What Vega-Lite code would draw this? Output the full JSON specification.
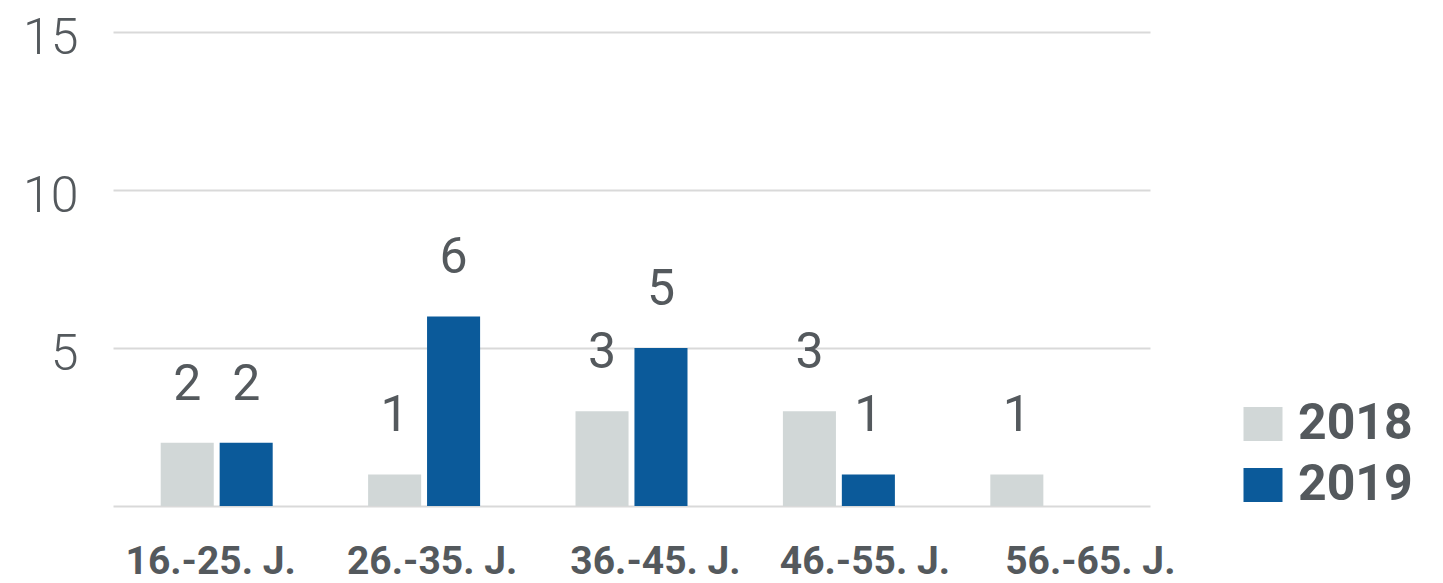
{
  "$schema": "https://vega.github.io/schema/vega-lite/v6.json",
  "width": 1037,
  "height": 474,
  "autosize": {"type": "none"},
  "padding": {"left": 113, "top": 32, "right": 293, "bottom": 77},
  "background": "#ffffff",
  "config": {
    "view": {"stroke": null},
    "font": "Roboto",
    "text": {"font": "Roboto"}
  },
  "data": {
    "values": [
      {"age": "16.-25. J.", "year": "2018", "value": 2},
      {"age": "16.-25. J.", "year": "2019", "value": 2},
      {"age": "26.-35. J.", "year": "2018", "value": 1},
      {"age": "26.-35. J.", "year": "2019", "value": 6},
      {"age": "36.-45. J.", "year": "2018", "value": 3},
      {"age": "36.-45. J.", "year": "2019", "value": 5},
      {"age": "46.-55. J.", "year": "2018", "value": 3},
      {"age": "46.-55. J.", "year": "2019", "value": 1},
      {"age": "56.-65. J.", "year": "2018", "value": 1}
    ]
  },
  "encoding": {
    "x": {
      "field": "age",
      "type": "nominal",
      "sort": ["16.-25. J.", "26.-35. J.", "36.-45. J.", "46.-55. J.", "56.-65. J."],
      "scale": {"paddingInner": 0.46, "paddingOuter": 0.23},
      "axis": {
        "title": null,
        "domain": false,
        "ticks": false,
        "tickSize": 0,
        "labelAngle": 0,
        "labelFont": "Roboto",
        "labelFontSize": 39,
        "labelFontWeight": "bold",
        "labelColor": "#54595d",
        "labelBaseline": "alphabetic",
        "labelPadding": 67,
        "labelOffset": {
          "condition": [
            {"test": "datum.value == '16.-25. J.'", "value": -6},
            {"test": "datum.value == '26.-35. J.'", "value": 8},
            {"test": "datum.value == '36.-45. J.'", "value": 24},
            {"test": "datum.value == '46.-55. J.'", "value": 26}
          ],
          "value": 44
        }
      }
    },
    "xOffset": {
      "field": "year",
      "type": "nominal",
      "sort": ["2018", "2019"],
      "scale": {"paddingInner": 0.1, "paddingOuter": 0}
    },
    "y": {
      "field": "value",
      "type": "quantitative",
      "scale": {"domain": [0, 15], "nice": false},
      "axis": {
        "title": null,
        "values": [0, 5, 10, 15],
        "labelExpr": "datum.value == 0 ? '' : datum.label",
        "domain": false,
        "ticks": false,
        "tickSize": 0,
        "grid": true,
        "gridColor": "#d9d9d9",
        "gridWidth": 2,
        "labelFont": "Roboto",
        "labelFontSize": 50,
        "labelFontWeight": 300,
        "labelColor": "#54595d",
        "labelBaseline": "alphabetic",
        "labelOffset": 21,
        "labelPadding": 35
      }
    }
  },
  "layer": [
    {
      "mark": {"type": "bar"},
      "encoding": {
        "color": {
          "field": "year",
          "type": "nominal",
          "scale": {"domain": ["2018", "2019"], "range": ["#d1d7d7", "#0b5a9a"]},
          "legend": {
            "title": null,
            "orient": "none",
            "legendX": 1125,
            "legendY": 367,
            "padding": 0,
            "symbolType": "M-1,-0.87H1V0.87H-1Z",
            "symbolSize": 1521,
            "symbolStrokeWidth": 0,
            "labelFont": "Roboto",
            "labelFontSize": 50,
            "labelFontWeight": "bold",
            "labelColor": "#54595d",
            "labelOffset": 10,
            "rowPadding": 11
          }
        }
      }
    },
    {
      "mark": {"type": "text", "baseline": "alphabetic", "dy": -43, "font": "Roboto", "fontSize": 50, "color": "#54595d"},
      "encoding": {
        "text": {"field": "value", "type": "quantitative"}
      }
    }
  ]
}
